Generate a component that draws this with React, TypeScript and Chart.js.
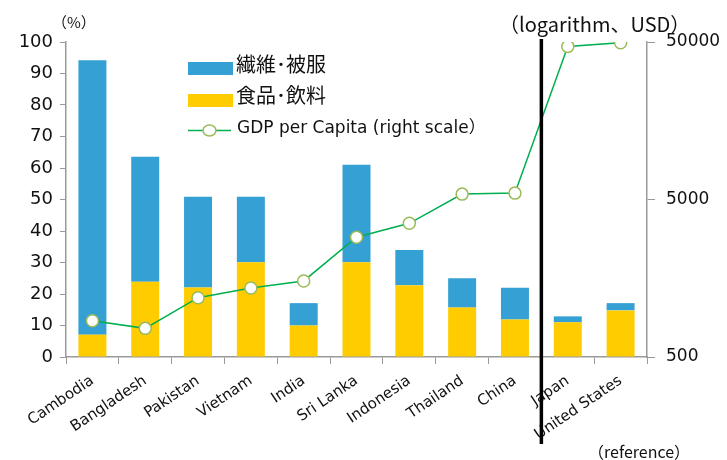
import React, { useEffect, useRef } from "react";
import { Chart, registerables } from "chart.js";

Chart.register(...registerables);

const categories = [
  "Cambodia", "Bangladesh", "Pakistan", "Vietnam", "India", "Sri Lanka",
  "Indonesia", "Thailand", "China", "Japan", "United States",
];
const foodBeverage = [7.1, 23.9, 22.1, 30.1, 10.0, 30.1, 22.8, 15.7, 11.9, 11.0, 14.8];
const textileApparel = [87.1, 39.7, 28.8, 20.8, 7.1, 30.9, 11.2, 9.3, 10.1, 1.9, 2.3];
const gdpPerCapita = [850, 760, 1190, 1370, 1520, 2880, 3530, 5410, 5490, 46900, 49500];
const leftTicks = [0, 10, 20, 30, 40, 50, 60, 70, 80, 90, 100];
const rightTicks = [500, 5000, 50000];
const referenceFrom = "Japan";

const labelTextile = "繊維･被服";
const labelFood = "食品･飲料";
const labelGdp = "GDP per Capita (right scale）";

const BLUE = "#35A0D3";
const YELLOW = "#FFCC00";
const GREEN = "#00B050";
const MARKER = "#9BBB59";
const AXIS = "#9a9a9a";
const TEXT = "#111111";
const LATIN = "'DejaVu Sans', 'Noto Sans CJK JP', sans-serif";
const CJK = "'Noto Sans CJK JP', 'DejaVu Sans', sans-serif";

const overlay = {
  id: "overlay",
  afterDatasetsDraw(chart: any) {
    const { ctx, chartArea, scales } = chart;
    const idx = categories.indexOf(referenceFrom);
    const x = (scales.x.getPixelForValue(idx - 1) + scales.x.getPixelForValue(idx)) / 2;
    ctx.save();
    ctx.strokeStyle = "#000";
    ctx.lineWidth = 3.5;
    ctx.beginPath();
    ctx.moveTo(x, chartArea.top - 3);
    ctx.lineTo(x, chart.height - 16);
    ctx.stroke();
    ctx.restore();
  },
  afterDraw(chart: any) {
    const { ctx } = chart;
    ctx.save();
    ctx.fillStyle = TEXT;
    ctx.textBaseline = "middle";
    ctx.textAlign = "left";
    // axis titles
    ctx.font = `15px ${CJK}`;
    ctx.fillText("（%）", 52, 22);
    ctx.font = `20px ${CJK}`;
    ctx.fillText("（logarithm、USD）", 499, 24);
    ctx.font = `16px ${CJK}`;
    ctx.fillText("（reference）", 588, 452);

    // legend
    ctx.fillStyle = BLUE;
    ctx.fillRect(188, 62, 45, 13);
    ctx.fillStyle = YELLOW;
    ctx.fillRect(188, 94, 45, 13);
    ctx.strokeStyle = GREEN;
    ctx.lineWidth = 1.5;
    ctx.beginPath();
    ctx.moveTo(188, 130.5);
    ctx.lineTo(231, 130.5);
    ctx.stroke();
    ctx.beginPath();
    ctx.ellipse(209.5, 130.5, 6.5, 5.5, 0, 0, Math.PI * 2);
    ctx.fillStyle = "#fff";
    ctx.fill();
    ctx.strokeStyle = MARKER;
    ctx.lineWidth = 1.5;
    ctx.stroke();

    ctx.fillStyle = TEXT;
    ctx.font = `20px ${CJK}`;
    ctx.fillText(labelTextile, 236, 64);
    ctx.fillText(labelFood, 236, 95);
    ctx.font = `17px ${LATIN}`;
    ctx.fillText(labelGdp, 237, 129);
    ctx.restore();
  },
};

export default function App() {
  const ref = useRef<HTMLCanvasElement>(null);
  useEffect(() => {
    if (!ref.current) return;
    const chart = new Chart(ref.current, {
      type: "bar",
      data: {
        labels: categories,
        datasets: [
          {
            type: "line",
            label: labelGdp,
            data: gdpPerCapita,
            yAxisID: "y2",
            borderColor: GREEN,
            borderWidth: 1.5,
            pointRadius: 6,
            pointBackgroundColor: "#fff",
            pointBorderColor: MARKER,
            pointBorderWidth: 1.5,
            order: 0,
          } as any,
          {
            label: labelFood,
            data: foodBeverage,
            backgroundColor: YELLOW,
            yAxisID: "y",
            stack: "s",
            order: 1,
            barPercentage: 0.53,
            categoryPercentage: 1,
          },
          {
            label: labelTextile,
            data: textileApparel,
            backgroundColor: BLUE,
            yAxisID: "y",
            stack: "s",
            order: 1,
            barPercentage: 0.53,
            categoryPercentage: 1,
          },
        ],
      },
      options: {
        animation: false,
        responsive: false,
        maintainAspectRatio: false,
        layout: { padding: { top: 42, left: 0, right: 0, bottom: 0 } },
        plugins: { legend: { display: false }, tooltip: { enabled: false } },
        scales: {
          x: {
            stacked: true,
            offset: true,
            grid: { display: true, offset: true, drawOnChartArea: false, tickLength: 7, color: AXIS },
            border: { color: AXIS, width: 1.5 },
            ticks: {
              color: TEXT,
              font: { family: LATIN, size: 15 },
              minRotation: 34,
              maxRotation: 34,
              autoSkip: false,
              padding: 8,
            },
            afterFit: (s: any) => { s.height = 103; },
          },
          y: {
            position: "left",
            stacked: true,
            min: 0,
            max: 100,
            grid: { drawOnChartArea: false, tickLength: 6, color: AXIS },
            border: { color: AXIS, width: 1.5 },
            afterBuildTicks: (s: any) => { s.ticks = leftTicks.map((v) => ({ value: v })); },
            ticks: { color: TEXT, font: { family: LATIN, size: 18 }, padding: 7 },
            afterFit: (s: any) => { s.width = 66; },
          },
          y2: {
            type: "logarithmic",
            position: "right",
            min: 500,
            max: 50000,
            grid: { drawOnChartArea: false, tickLength: 8, color: AXIS },
            border: { color: AXIS, width: 1.5 },
            afterBuildTicks: (s: any) => { s.ticks = rightTicks.map((v) => ({ value: v })); },
            ticks: {
              color: TEXT,
              font: { family: LATIN, size: 17 },
              padding: 11,
              callback: (v: any) => String(v),
            },
            afterFit: (s: any) => { s.width = 80; },
          },
        },
      },
      plugins: [overlay],
    });
    return () => chart.destroy();
  }, []);
  return (
    <div style={{ position: "fixed", left: 0, top: 0, width: 727, height: 460, background: "#fff" }}>
      <canvas ref={ref} width={727} height={460} style={{ width: 727, height: 460 }} />
    </div>
  );
}
